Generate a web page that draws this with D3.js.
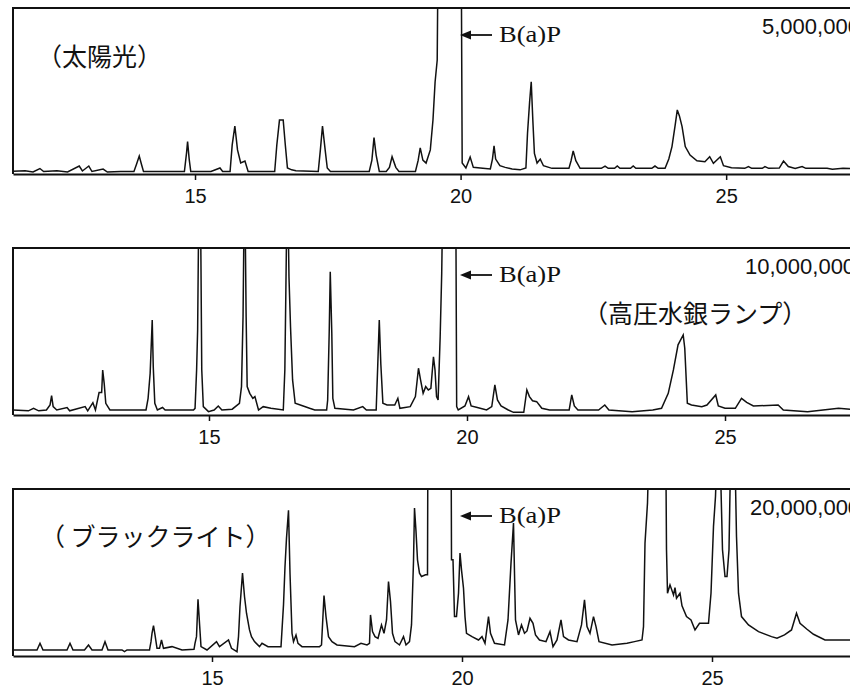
<!DOCTYPE html>
<html>
<head>
<meta charset="utf-8">
<script src="https://cdn.jsdelivr.net/npm/d3@7"></script>
<style>
body { margin: 0; background: #fff; }
</style>
</head>
<body>
<div id="grafica"></div>
<script>
// Cromatogramas: [tiempo de retencion (min), senal (% de escala completa)]

let sunlight = [[11.5,1.5],[11.8,2],[11.95,1.2],[12.08,3.3],[12.15,1.5],[12.4,2],[12.6,1.2],[12.82,4.8],[12.88,1.8],[13.0,4.8],[13.06,1.5],[13.27,3],[13.35,1.2],[13.6,1.5],[13.85,1.5],[13.9,6],[13.95,10.8],[13.99,6],[14.03,1.5],[14.4,1.5],[14.8,1.5],[14.84,12.6],[14.86,19.5],[14.89,9],[14.92,1.5],[15.3,1.5],[15.47,3.6],[15.52,1.5],[15.66,1.5],[15.7,17.5],[15.75,28.9],[15.8,14.5],[15.86,6.6],[15.94,7.8],[16.0,1.5],[16.5,1.5],[16.54,17.5],[16.59,32.5],[16.66,32.5],[16.7,17.5],[16.74,3.6],[16.82,2.5],[16.9,2],[17.32,1.5],[17.36,14.5],[17.4,28.9],[17.45,14.5],[17.49,3.6],[17.55,1.5],[18.28,1.5],[18.33,8.4],[18.37,21.9],[18.41,11.4],[18.47,1.5],[18.6,1.5],[18.66,4],[18.71,10.4],[18.78,4],[18.84,1.5],[19.15,1.5],[19.2,8],[19.24,15.7],[19.29,8.4],[19.35,6.6],[19.43,14.5],[19.48,32.5],[19.52,55.4],[19.56,68.7],[19.58,150],[20.01,150],[20.03,6.6],[20.1,3.6],[20.18,10.2],[20.24,4],[20.37,3.6],[20.56,3],[20.6,9],[20.63,17],[20.66,9],[20.74,5],[20.84,4],[20.97,3],[21.12,2.5],[21.23,3.6],[21.26,24.5],[21.3,43.6],[21.33,55.6],[21.36,32.5],[21.39,12.4],[21.44,6.6],[21.5,9],[21.56,5],[21.72,3.4],[22.04,3.4],[22.08,8],[22.12,13.9],[22.17,8],[22.25,3.4],[22.65,3.4],[22.72,4.8],[22.78,3.4],[22.9,3.4],[22.95,4.8],[23.0,3.4],[23.2,3.4],[23.25,4.8],[23.3,3.4],[23.6,3.4],[23.66,4.8],[23.72,3.4],[23.85,3.4],[23.92,9],[23.98,16.5],[24.04,29.5],[24.08,38.6],[24.12,35],[24.17,28.5],[24.23,16.5],[24.32,11.4],[24.45,8],[24.6,7.4],[24.69,10.4],[24.76,6.4],[24.89,10.4],[24.95,5],[25.1,3.8],[25.35,3.4],[25.42,4.5],[25.48,3.4],[25.68,3.4],[25.73,4.5],[25.8,3.4],[26.0,3.6],[26.08,7.8],[26.17,4.5],[26.3,3.4],[26.43,4.5],[26.5,3.4],[26.9,3.4],[27.0,2.8],[27.2,3.4],[27.6,3]]

let mercuryLamp = [[11.2,3],[11.5,2.5],[11.6,4],[11.7,2.5],[11.85,3],[11.92,6],[11.95,11.6],[11.98,5],[12.05,3],[12.25,4.5],[12.3,2.5],[12.6,5],[12.65,2.5],[12.75,7.4],[12.8,3],[12.87,13.4],[12.92,13.4],[12.94,26.9],[12.97,18.6],[13.0,7],[13.08,3],[13.78,3],[13.82,10],[13.86,25],[13.9,56.9],[13.92,28.9],[13.95,7],[14.0,3],[14.1,4.5],[14.15,3],[14.7,3],[14.73,4],[14.76,26.9],[14.78,50.9],[14.81,150],[14.83,150],[14.86,26.9],[14.89,5],[14.99,2],[15.1,3],[15.18,5.4],[15.25,3],[15.45,3.5],[15.59,7],[15.63,17],[15.66,58.9],[15.69,150],[15.72,58.9],[15.74,17],[15.79,13],[15.85,10],[15.89,11],[15.96,3],[16.05,5],[16.2,4],[16.44,3],[16.47,26.9],[16.49,74.9],[16.52,150],[16.55,82.8],[16.58,52.9],[16.62,21],[16.67,7],[16.77,6],[16.95,4],[17.05,3],[17.28,3],[17.3,9],[17.33,49.9],[17.35,85.8],[17.38,49],[17.4,10],[17.44,4],[17.8,3],[17.98,5],[18.05,3],[18.24,3],[18.27,29.3],[18.3,56.9],[18.33,30.5],[18.37,7],[18.45,6],[18.6,6],[18.66,10],[18.7,4],[18.9,5],[19.0,11],[19.06,28],[19.1,21],[19.15,13],[19.2,17],[19.25,15],[19.3,16],[19.35,34.9],[19.38,27],[19.41,11],[19.44,9],[19.48,46.9],[19.51,84.8],[19.54,150],[19.78,150],[19.8,5],[19.83,3],[19.96,5.4],[20.03,11],[20.08,5.4],[20.2,4.5],[20.38,3],[20.48,5],[20.54,18],[20.59,9],[20.66,5.4],[20.8,3],[20.9,1.6],[21.1,1.6],[21.16,15],[21.21,11],[21.27,8.5],[21.35,8],[21.45,4],[21.6,3],[21.98,3],[22.03,12],[22.08,5.4],[22.15,3],[22.55,3],[22.67,6],[22.75,3],[23.2,2],[23.6,3],[23.77,4],[23.9,13],[24.0,27],[24.09,42],[24.19,47.9],[24.22,40],[24.27,7],[24.35,6],[24.55,5],[24.65,6],[24.82,12],[24.87,5.4],[25.0,4],[25.2,4],[25.32,10],[25.42,7.6],[25.55,5.4],[26.03,6],[26.13,3],[26.6,2],[26.9,3],[27.2,4],[27.6,3]]

let blackLight = [[11.0,3.6],[11.5,3.6],[11.56,7.6],[11.62,3.6],[12.1,3.6],[12.16,7.6],[12.22,3.6],[12.45,3.6],[12.53,6.6],[12.6,3.6],[12.8,3.6],[12.86,8.6],[12.92,3.6],[13.2,3.6],[13.25,2.6],[13.3,3.6],[13.75,3.6],[13.78,8.6],[13.8,13.6],[13.83,18.2],[13.86,12.6],[13.9,4.6],[13.95,4.6],[13.99,9.6],[14.03,4.6],[14.2,5.6],[14.4,3.6],[14.64,4],[14.66,7.6],[14.69,11.6],[14.72,34],[14.75,19.6],[14.78,5.6],[14.9,3.6],[15.09,8.6],[15.15,5.6],[15.33,9.6],[15.39,4.6],[15.5,2.6],[15.53,11.6],[15.56,29.6],[15.61,49.6],[15.65,35.6],[15.69,25.6],[15.75,15.6],[15.79,11.6],[15.85,8.6],[15.95,5.6],[16.0,7.6],[16.12,5.6],[16.38,5.6],[16.43,30.6],[16.46,53.6],[16.49,70.6],[16.53,87.2],[16.56,49.6],[16.6,13.6],[16.63,8.6],[16.68,12.6],[16.72,7.6],[16.8,5.6],[17.15,5.6],[17.19,6.6],[17.24,36.2],[17.28,23.6],[17.33,11.6],[17.4,8.6],[17.5,6.6],[17.85,5.6],[17.98,7.6],[18.1,6.6],[18.15,7.6],[18.17,24.6],[18.21,14.6],[18.26,11.6],[18.32,10.6],[18.39,18.6],[18.44,13.6],[18.49,21.6],[18.53,44.6],[18.57,32.6],[18.61,13.6],[18.66,8.6],[18.75,6.6],[18.83,11.6],[18.88,6.6],[18.95,8.6],[18.99,18.6],[19.03,56.6],[19.05,88.6],[19.08,74.6],[19.11,57.6],[19.15,49.6],[19.19,47.6],[19.27,48.6],[19.31,48.6],[19.32,150],[19.78,150],[19.79,57.6],[19.82,57.6],[19.85,23.6],[19.89,23.6],[19.93,37.6],[19.96,61.6],[19.99,51.6],[20.03,40.6],[20.06,23.6],[20.09,13.6],[20.2,11.6],[20.33,9.6],[20.4,11.6],[20.46,7.6],[20.53,23.6],[20.57,13.6],[20.65,7.6],[20.85,6.6],[20.92,21.6],[20.98,55.6],[21.03,79.6],[21.05,49.6],[21.07,21.6],[21.13,12.6],[21.19,18.6],[21.25,13.6],[21.3,15],[21.36,22.6],[21.42,19.6],[21.47,12.6],[21.55,9.6],[21.68,8.6],[21.76,14.6],[21.82,5.6],[21.9,9.6],[21.98,21.6],[22.03,11.6],[22.13,9.6],[22.3,8.6],[22.39,18.6],[22.45,33.6],[22.5,17.6],[22.56,13.6],[22.63,23.6],[22.68,17.6],[22.74,8.6],[23.0,6.6],[23.3,7.6],[23.45,8.6],[23.6,9.6],[23.63,17.6],[23.66,67.6],[23.71,91.6],[23.76,150],[24.07,150],[24.09,63.6],[24.11,37.6],[24.16,42.6],[24.23,36.6],[24.26,41],[24.29,34.6],[24.36,37.6],[24.4,30],[24.49,23.6],[24.58,21.6],[24.66,15.6],[24.75,19.6],[24.93,19.6],[24.98,37.6],[25.03,77.6],[25.07,95.6],[25.13,150],[25.18,100],[25.21,63.6],[25.26,47.6],[25.3,47.6],[25.34,63.6],[25.39,150],[25.44,150],[25.49,71.6],[25.53,37.6],[25.59,23.6],[25.73,18.6],[25.93,14.6],[26.19,11.6],[26.3,10.6],[26.45,12.6],[26.59,15.6],[26.69,25.6],[26.76,19.6],[26.9,16],[27.03,13],[27.26,9.6],[27.96,9.6]]

let traces = [sunlight, mercuryLamp, blackLight]
let lightNames = ["（太陽光）", "（高圧水銀ランプ）", "（ ブラックライト）"]
let fullScale = ["5,000,000", "10,000,000", "20,000,000"]
let timeRange = [[11.573, 27.52], [11.202, 27.616], [11.02, 27.96]]
let tickValues = [15, 20, 25]
let peakLabel = "B(a)P"


let width = 850
let height = 690
let left = 13
let right = 860
let panelTop = [8, 248, 489]
let panelHeight = [166, 167, 167]
// posicion del nombre de la lampara (x, y relativo al panel)
let namePos = [[37, 47], [583, 64], [40, 46]]

const svg = d3.select('#grafica')
    .append("svg")
    .attr("width", width)
    .attr("height", height)
    .style("font-family", "'Liberation Sans', Arial, sans-serif")

function drawPanel(i) {
    let top = panelTop[i]
    let bottom = top + panelHeight[i]

    const xScale = d3.scaleLinear()
        .domain(timeRange[i])
        .range([left, right])

    const yScale = d3.scaleLinear()
        .domain([0, 100])
        .range([bottom, top])

    const g = svg.append("g")

    g.append("clipPath")
        .attr("id", "clip" + i)
        .append("rect")
        .attr("x", left)
        .attr("y", top)
        .attr("width", right - left)
        .attr("height", bottom - top)

    const line = d3.line()
        .x(d => xScale(d[0]))
        .y(d => yScale(d[1]))

    g.append("path")
        .datum(traces[i])
        .attr("clip-path", "url(#clip" + i + ")")
        .attr("fill", "none")
        .attr("stroke", "#111")
        .attr("stroke-width", 1.5)
        .attr("stroke-linejoin", "miter")
        .attr("d", line)

    // marco
    g.append("path")
        .attr("d", "M" + right + "," + top + "H" + left + "V" + bottom)
        .attr("fill", "none")
        .attr("stroke", "#111")
        .attr("stroke-width", 2)

    const xAxis = d3.axisBottom(xScale)
        .tickValues(tickValues)
        .tickSize(6)
        .tickPadding(9)
        .tickSizeOuter(0)

    const ax = g.append("g")
        .attr("transform", "translate(0," + bottom + ")")
        .call(xAxis)
    ax.select(".domain").attr("stroke", "#111").attr("stroke-width", 2)
    ax.selectAll(".tick line").attr("stroke", "#111").attr("stroke-width", 1.5)
    ax.selectAll(".tick text")
        .attr("fill", "#111")
        .style("font-family", "'Liberation Sans', Arial, sans-serif")
        .style("font-size", "20px")

    // flecha B(a)P
    let ay = top + 27
    g.append("line")
        .attr("x1", 468).attr("x2", 492)
        .attr("y1", ay).attr("y2", ay)
        .attr("stroke", "#111")
        .attr("stroke-width", 1.8)
    g.append("path")
        .attr("d", "M460," + ay + "L471," + (ay - 4.5) + "L471," + (ay + 4.5) + "Z")
        .attr("fill", "#111")

    g.append("text")
        .attr("x", 499)
        .attr("y", top + 34)
        .attr("textLength", 62)
        .attr("lengthAdjust", "spacingAndGlyphs")
        .style("font-family", "'Liberation Serif', 'Times New Roman', serif")
        .style("font-size", "23px")
        .attr("fill", "#111")
        .text(peakLabel)

    g.append("text")
        .attr("x", [762, 745, 750][i])
        .attr("y", top + 26)
        .style("font-size", "22px")
        .attr("fill", "#111")
        .text(fullScale[i])

    g.append("text")
        .attr("x", namePos[i][0])
        .attr("y", top + namePos[i][1])
        .attr("dominant-baseline", "central")
        .style("font-family", "'Noto Sans CJK JP', sans-serif")
        .style("font-size", "25px")
        .attr("fill", "#111")
        .text(lightNames[i])
}

for (let i = 0; i < traces.length; i++) {
    drawPanel(i)
}
</script>
</body>
</html>
